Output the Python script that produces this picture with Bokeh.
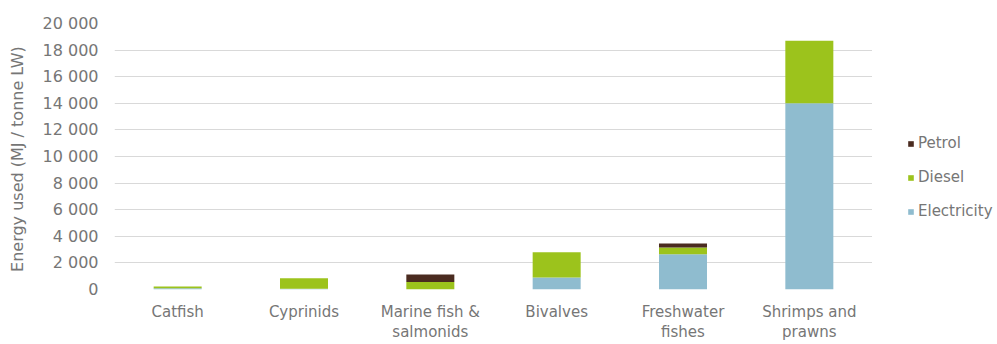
from bokeh.plotting import figure
from bokeh.layouts import row
from bokeh.models import Range1d, FactorRange, Legend, LegendItem, ColumnDataSource, FixedTicker
from bokeh.embed import file_html
from bokeh.resources import INLINE

categories = ["Catfish", "Cyprinids", "Marine fish &\nsalmonids", "Bivalves",
              "Freshwater\nfishes", "Shrimps and\nprawns"]
electricity = [100, 50, 0, 900, 2650, 14000]
diesel = [120, 800, 560, 1900, 500, 4700]
petrol = [0, 0, 560, 0, 300, 0]
series_names = ["Electricity", "Diesel", "Petrol"]
colors = ["#8FBCCF", "#9CC31C", "#4A2B20"]
y_ticks = [0, 2000, 4000, 6000, 8000, 10000, 12000, 14000, 16000, 18000, 20000]
y_tick_labels = ["0", "2 000", "4 000", "6 000", "8 000", "10 000", "12 000",
                 "14 000", "16 000", "18 000", "20 000"]

FONT = "DejaVu Sans"
TXT = "#767676"
FS = "15px"

src = ColumnDataSource(dict(cat=categories, Electricity=electricity,
                            Diesel=diesel, Petrol=petrol))

p = figure(width=872, height=344, x_range=FactorRange(*categories),
           y_range=Range1d(0, 20000), output_backend="svg",
           toolbar_location=None, min_border_left=114, min_border_right=0,
           min_border_top=23, min_border_bottom=53)
p.outline_line_color = None

renderers = p.vbar_stack(series_names, x="cat", width=0.38, color=colors,
                         source=src, line_color=None)

p.xgrid.grid_line_color = None
p.ygrid.grid_line_color = "#D9D9D9"
p.ygrid.grid_line_width = 1

p.yaxis.ticker = FixedTicker(ticks=y_ticks)
p.yaxis.major_label_overrides = {t: l for t, l in zip(y_ticks, y_tick_labels)}
p.yaxis.axis_label = "Energy used  (MJ / tonne LW)"
for ax in (p.xaxis[0], p.yaxis[0]):
    ax.axis_line_color = None
    ax.major_tick_line_color = None
    ax.minor_tick_line_color = None
    ax.major_tick_out = 0
    ax.major_tick_in = 0
    ax.minor_tick_out = 0
    ax.minor_tick_in = 0
    ax.major_label_text_font = FONT
    ax.major_label_text_font_size = FS
    ax.major_label_text_color = TXT
    ax.axis_label_text_font = FONT
    ax.axis_label_text_font_size = "16px"
    ax.axis_label_text_font_style = "normal"
    ax.axis_label_text_color = TXT
p.yaxis.major_label_text_font_size = "16px"
p.yaxis.major_label_standoff = 16
p.yaxis.axis_label_standoff = 13
p.xaxis.major_label_standoff = 13
p.xaxis.major_label_text_line_height = 1.15

# legend panel: legend swatches taken from the same stacked renderers (hidden)
p2 = figure(width=125, height=344, x_range=FactorRange(*categories),
            y_range=Range1d(0, 20000), x_axis_type=None, y_axis_type=None,
            output_backend="svg", toolbar_location=None, min_border=0)
p2.outline_line_color = None
p2.grid.grid_line_color = None
leg_r = p2.vbar_stack(series_names, x="cat", width=0.38, color=colors,
                      source=src, line_color=None)
for r in leg_r:
    r.visible = False

legend = Legend(items=[LegendItem(label=n, renderers=[r]) for n, r in
                       zip(reversed(series_names), reversed(leg_r))],
                location=(35, 68), orientation="vertical",
                glyph_width=7, glyph_height=7, label_height=20, spacing=14,
                label_text_font=FONT, label_text_font_size=FS,
                label_text_color=TXT, background_fill_alpha=0,
                border_line_color=None, padding=0, margin=0, label_standoff=4,
                click_policy="none")
p2.add_layout(legend, "center")

layout = row(p, p2)
open("out.html", "w").write(file_html(layout, INLINE))
